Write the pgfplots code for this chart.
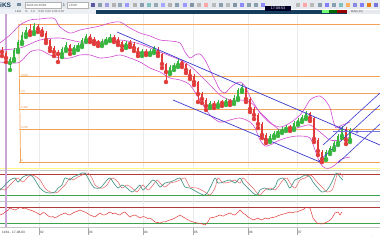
\documentclass[border=0pt]{standalone}
\usepackage{pgfplots}
\pgfplotsset{compat=1.18}
\usepackage{pgfplotstable}
\usepackage{fontspec}
\setmainfont{Liberation Sans}
\definecolor{cgreen}{HTML}{38B53F}
\definecolor{cred}{HTML}{E03A3A}
\definecolor{corange}{HTML}{F4A45A}
\definecolor{cblue}{HTML}{3A3ACC}
\definecolor{cmag}{HTML}{D24BD2}
\definecolor{cpurple}{HTML}{C9A6D6}
\definecolor{cteal}{HTML}{4E9A8C}
\definecolor{cdark}{HTML}{163E5C}
\definecolor{ctool}{HTML}{E6EAEF}
\definecolor{cgrid}{HTML}{EBEBEB}
\definecolor{clevred}{HTML}{B03A3A}
\definecolor{clevgreen}{HTML}{3FA34D}

\pgfplotstableread{
x o h l c
2 150 153 144 148
6 147 149 138 142
10 137 143 130 141
14 141 152 139 150
18 150 160 148 158
22 158 168 156 165
26 166 173 163 170
30 171 176 165 168
34 168 177 166 174
38 174 176 168 171
42 171 173 165 168
46 167 169 157 160
50 160 161 149 152
54 152 154 144 148
58 148 150 138 146
62 146 153 143 151
66 151 158 149 155
70 155 156 146 150
74 150 155 147 153
78 153 157 150 155
82 155 162 153 160
86 160 166 158 164
90 164 166 158 161
94 161 163 156 159
98 158 160 154 157
102 156 161 154 159
106 159 163 157 161
110 161 166 159 163
114 163 165 158 161
118 161 163 155 158
122 158 159 150 154
126 154 159 152 157
130 157 160 153 156
134 156 158 149 152
138 152 153 144 147
142 147 151 144 149
146 149 151 145 147
150 147 151 145 149
154 149 154 147 152
158 151 153 144 147
162 146 147 132 136
166 136 137 118 128
170 128 135 126 133
174 133 137 130 135
178 135 142 133 139
182 139 140 133 136
186 136 137 127 130
190 130 131 121 124
194 124 126 115 118
198 118 119 98 106
202 106 108 97 101
206 100 102 90 94
210 94 99 92 97
214 97 99 92 95
218 95 100 93 98
222 98 100 94 97
226 97 102 95 100
230 100 101 95 98
234 98 105 96 102
238 102 112 100 110
242 110 116 108 113
246 112 113 98 101
250 101 103 88 91
254 91 93 81 85
258 85 87 72 76
262 76 78 62 65
266 65 67 57 60
270 60 66 58 64
274 64 69 62 67
278 67 71 64 69
282 69 73 67 71
286 71 75 69 73
290 73 75 69 72
294 72 79 70 77
298 77 82 75 80
302 80 85 78 83
306 83 89 81 87
310 87 88 79 82
314 82 83 58 61
318 60 62 45 49
322 48 50 38 41
326 41 50 40 48
330 48 54 46 52
334 52 59 50 57
338 57 66 55 64
342 64 74 62 72
346 71 73 56 60
350 60 72 58 70
}\candles

\pgfplotstableread{
x k d
0 35.7 40
5 50 35.7
10 64.3 50
15 70 64.3
18 58.6 70
23 72.9 58.6
28 78.6 72.9
32 75.7 78.6
35 64.3 75.7
40 41.4 64.3
45 30 41.4
50 27.1 30
55 30 27.1
58 41.4 30
62 50 41.4
65 70 50
70 64.3 70
73 72.9 64.3
78 78.6 72.9
82 84.3 78.6
85 84.3 84.3
88 70 84.3
92 50 70
95 41.4 50
100 41.4 41.4
103 50 41.4
107 64.3 50
110 70 64.3
113 58.6 70
118 41.4 58.6
122 50 41.4
127 41.4 50
132 30 41.4
137 41.4 30
140 50 41.4
143 35.7 50
148 50 35.7
153 64.3 50
157 55.7 64.3
160 44.3 55.7
165 55.7 44.3
170 58.6 55.7
175 64.3 58.6
180 70 64.3
185 44.3 70
190 41.4 44.3
197 30 41.4
205 21.4 30
210 41.4 21.4
215 70 41.4
218 55.7 70
223 58.6 55.7
230 64.3 58.6
235 55.7 64.3
240 70 55.7
243 55.7 70
248 41.4 55.7
253 27.1 41.4
257 21.4 27.1
260 35.7 21.4
265 41.4 35.7
270 35.7 41.4
275 44.3 35.7
278 64.3 44.3
283 70 64.3
287 55.7 70
290 41.4 55.7
295 64.3 41.4
300 70 64.3
305 78.6 70
310 72.9 78.6
313 58.6 72.9
317 44.3 58.6
322 30 44.3
327 35.7 30
332 58.6 35.7
335 78.6 58.6
337 84.3 78.6
340 72.9 84.3
343 64.3 72.9
}\stoch

\pgfplotstableread{
x r
0 50
3 53
5 57.5
8 62
10 67.5
13 64
15 62.5
18 66
20 70
23 66
25 67.5
28 64
30 62.5
33 60
35 57.5
38 54
40 50
43 56
45 55
48 48
50 45
53 46
55 42.5
58 47
60 50
63 53
65 55
68 51
70 50
73 55
75 57.5
78 60
80 62.5
83 59
85 57.5
88 53
90 50
93 47
95 45
98 51
100 55
103 50
105 50
108 55
110 57.5
113 53
115 55
118 51
120 50
123 56
125 57.5
128 49
130 45
133 49
135 50
138 46
140 42.5
143 46
145 45
148 41
150 42.5
153 37
155 32.5
158 31
160 30
163 33
165 32.5
168 36
170 37.5
173 40
175 42.5
178 47
180 50
183 45
185 42.5
188 38
190 35
194 32
197 30
201 29
205 25
208 33
210 42.5
213 44
215 45
218 48
220 50
223 47
225 50
228 53
230 55
233 51
235 50
238 57
240 62.5
243 55
246 50
248 45
251 41
253 37.5
256 40
258 42.5
260 39
262 37.5
265 42.5
268 40
270 42.5
273 44
275 45
278 48
280 50
283 52
287 55
290 57.5
292 55
295 58
297 57.5
300 61
302 62.5
304 65
305 67.5
307 70
308 68
310 67.5
313 42.5
317 30
320 28
322 27.5
325 30
327 32.5
330 37
332 42.5
335 55
338 57.5
340 50
342 57.5
}\rsi

\begin{document}
\begin{tikzpicture}
% ---------- chrome ----------
\begin{scope}[x=1pt,y=-1pt,yshift=240pt]
\fill[white] (0,0) rectangle (380,240);
\fill[ctool] (0,0) rectangle (380,9.5);
\fill[ctool!70!white] (0,9.5) rectangle (96,14);
\fill[cdark] (96,9.8) rectangle (380,13.6);
\node[font=\bfseries\fontsize{6.5}{7}\selectfont, text=cdark, anchor=west, inner sep=0] at (0,5) {iKS};
\fill[cdark!60] (17,2.8) rectangle ++(3.6,3.6);
\fill[white, draw=gray!60, line width=0.2pt] (25,1.8) rectangle (61,8);
\node[font=\fontsize{3}{3}\selectfont, text=gray!60!black, anchor=west, inner sep=0] at (26.5,5) {2024-02-20/04};
\node[font=\fontsize{4}{4}\selectfont, text=cdark, inner sep=0] at (64,5) {1};
\fill[white, draw=gray!60, line width=0.2pt] (67,1.8) rectangle (88,8);
\node[font=\fontsize{3}{3}\selectfont, text=gray!60!black, anchor=west, inner sep=0] at (69,5) {10:00};
\foreach \xx/\cc in {91/gray!70!blue,98/cdark!50,105/cblue!50,112/gray!60,118/cdark!45,125/blue!40,133/gray!60,140/cdark!50,
  147/teal!50,154/cdark!45,161/blue!35,168/gray!60,175/cdark!50,183/blue!40,190/cdark!55,197/gray!55,204/red!35,212/gray!55,
  219/cdark!50,226/gray!55,233/cdark!55,240/blue!45,247/cdark!50,254/cdark!50,261/blue!45,296/gray!55,303/red!35,310/gray!55,
  318/cdark!50,325/blue!50,332/cdark!50,339/teal!50,346/orange!60,353/cblue!60,360/blue!50,367/orange!60!brown,374/cblue!70}
  {\fill[\cc] (\xx,3) rectangle ++(3.6,3.6);}
\fill[black!85!blue] (265,5.8) rectangle (291,11.2);
\node[font=\fontsize{3.6}{4}\selectfont, text=white, inner sep=0] at (278,8.6) {17:09:53};
\node[font=\fontsize{2.8}{3}\selectfont, text=gray!60!black, anchor=west, inner sep=0] at (15,11.8) {1461 \quad \% \quad 1.0 \quad 0.00\, 0.00\, 0.00\, 0.00};
\fill[green!55!white] (322,10.2) rectangle (329,13.4);
\fill[green!40!black] (329,10.2) rectangle (337,13.4);
\fill[red!60!black] (337,10.2) rectangle (347,13.4);
\fill[ctool] (347,10) rectangle (380,14);
\node[font=\fontsize{2.8}{3}\selectfont, text=gray!50!black, anchor=west, inner sep=0] at (351,12) {MA(5,10)};
% separators
\draw[gray!45, line width=0.4pt] (0,170.3) -- (380,170.3);
\draw[gray!45, line width=0.4pt] (0,201.3) -- (380,201.3);
\draw[gray!45, line width=0.4pt] (0,227.3) -- (380,227.3);
% bottom labels
\foreach \xx/\tt in {39/02,88/03,143/04,193/05,248/06,297/07}{
  \draw[gray!70, line width=0.3pt] (\xx,228) -- (\xx,235);
  \node[font=\fontsize{3.2}{3.5}\selectfont, text=gray!50!black, anchor=west, inner sep=0] at (\xx+0.8,232.5) {\tt};
}
\node[font=\fontsize{3.2}{3.5}\selectfont, text=black!80, anchor=west, inner sep=0] at (2,232.5) {1461 - 17-08-03};
\node[font=\fontsize{3}{3}\selectfont, text=gray!60, inner sep=0] at (372,237) {...};
\end{scope}

% ---------- main panel ----------
\begin{axis}[at={(0pt,70pt)}, anchor=south west, scale only axis,
  width=380pt, height=156pt, xmin=0, xmax=380, ymin=30, ymax=186,
  axis line style={draw=none}, xtick={39,88,143,193,248,297}, ytick=\empty,
  xticklabels={}, xmajorgrids, grid style={cgrid, line width=0.4pt},
  major tick length=0pt, clip=true]
% pale line at panel bottom
\addplot[yellow!45!white, line width=0.6pt] coordinates {(0,31.5) (380,31.5)};
% Fibonacci levels
\addplot[corange, line width=0.7pt] coordinates {(19,176) (380,176)};
\addplot[corange, line width=0.7pt] coordinates {(19,123.3) (380,123.3)};
\addplot[corange, line width=0.7pt] coordinates {(19,107) (380,107)};
\addplot[corange, line width=0.7pt] coordinates {(19,90.7) (380,90.7)};
\addplot[corange, line width=0.7pt] coordinates {(19,70.6) (380,70.6)};
\addplot[corange, line width=0.7pt] coordinates {(19,38) (380,38)};
\addplot[corange, line width=0.7pt] coordinates {(18.6,176) (20.6,38)};
\foreach \lv/\tx in {176/1,123.3/0.618,107/0.5,90.7/0.382,70.6/0.236,38/0}{
  \edef\tmp{\noexpand\node[font=\noexpand\fontsize{2.8}{3}\noexpand\selectfont, text=corange!90!black, anchor=south west, inner sep=0.3pt] at (axis cs:20.5,\lv) {\tx};}\tmp
}
% purple marker line
\addplot[cpurple, line width=1.1pt] coordinates {(6,30) (6,186)};
% Bollinger bands
\addplot[cmag, line width=0.6pt, smooth] coordinates {(0,157) (10,165) (20,175) (30,180) (40,181) (50,182) (55,181) (60,173) (70,167) (80,170) (90,172) (100,174) (110,177) (120,178) (130,172) (140,167) (150,164) (160,160) (170,159) (180,157) (185,148) (190,142) (195,145) (200,146) (205,140) (210,130) (215,120) (220,110) (225,107) (230,112) (235,116) (240,118) (245,114) (250,103) (255,95) (260,87) (270,77) (280,73) (290,77) (300,85) (305,92) (310,100) (315,103) (320,104) (325,100) (330,92) (333,80) (336,72) (340,74) (345,76) (350,78)};
\addplot[cmag, line width=0.6pt, smooth] coordinates {(0,150) (20,152) (40,160) (60,162) (80,158) (100,158) (120,160) (140,156) (160,148) (180,140) (190,134) (200,125) (210,115) (220,105) (230,100) (240,100) (250,98) (260,88) (270,78) (280,70) (290,70) (300,73) (310,75) (320,68) (330,60) (340,60) (350,63)};
\addplot[cmag, line width=0.6pt, smooth] coordinates {(0,138) (10,137) (20,138) (30,148) (40,150) (50,145) (60,142) (70,142) (80,145) (90,145) (100,142) (110,143) (120,145) (130,142) (140,138) (150,132) (160,128) (170,122) (180,120) (190,115) (200,100) (210,85) (220,78) (230,80) (240,82) (250,78) (255,72) (260,60) (265,54) (270,55) (280,60) (290,63) (300,64) (310,62) (315,50) (320,37) (325,32) (330,32) (335,35) (340,40) (345,42) (350,43)};
% candles: wicks
\addplot[cgreen, only marks, mark=none, restrict expr to domain={\thisrow{c}-\thisrow{o}}{0:1000},
  error bars/.cd, y dir=plus, y explicit, error mark=none, error bar style={line width=0.45pt}]
  table[x=x, y=l, y error plus expr=\thisrow{h}-\thisrow{l}] {\candles};
\addplot[cred, only marks, mark=none, restrict expr to domain={\thisrow{c}-\thisrow{o}}{-1000:-0.001},
  error bars/.cd, y dir=plus, y explicit, error mark=none, error bar style={line width=0.45pt}]
  table[x=x, y=l, y error plus expr=\thisrow{h}-\thisrow{l}] {\candles};
% candles: bodies
\addplot[cgreen, only marks, mark=none, restrict expr to domain={\thisrow{c}-\thisrow{o}}{0:1000},
  error bars/.cd, y dir=plus, y explicit, error mark=none, error bar style={line width=1.5pt}]
  table[x=x, y=o, y error plus expr=\thisrow{c}-\thisrow{o}] {\candles};
\addplot[cred, only marks, mark=none, restrict expr to domain={\thisrow{c}-\thisrow{o}}{-1000:-0.001},
  error bars/.cd, y dir=plus, y explicit, error mark=none, error bar style={line width=1.5pt}]
  table[x=x, y=c, y error plus expr=\thisrow{o}-\thisrow{c}] {\candles};
% descending channel
\addplot[cblue, line width=0.7pt] coordinates {(117,168) (380,55)};
\addplot[cblue, line width=0.7pt] coordinates {(173,100) (320,38)};
% ascending lines
\addplot[cblue, line width=0.6pt] coordinates {(323,55) (380,107)};
\addplot[cblue, line width=0.6pt] coordinates {(318,38) (380,95)};
\addplot[cblue, line width=0.6pt] coordinates {(338,37) (380,76)};
\addplot[cblue!70, line width=0.6pt] coordinates {(333,69) (380,69)};
\addplot[cblue, only marks, mark=o, mark size=1.3pt, line width=0.4pt] coordinates {(340,72) (357,68)};
\end{axis}

% ---------- oscillator 1 ----------
\begin{axis}[at={(0pt,39pt)}, anchor=south west, scale only axis,
  width=380pt, height=31pt, xmin=0, xmax=380, ymin=4.3, ymax=92.9,
  axis line style={draw=none}, xtick={39,88,143,193,248,297}, ytick=\empty,
  xticklabels={}, xmajorgrids, grid style={cgrid, line width=0.4pt},
  major tick length=0pt, clip=true]
\addplot[clevred, line width=0.6pt] coordinates {(0,80) (380,80)};
\addplot[clevgreen, line width=0.6pt] coordinates {(0,20) (380,20)};
\addplot[cpurple, line width=1.1pt] coordinates {(6,4.3) (6,92.9)};
\addplot[cred!80, line width=0.5pt, smooth] table[x=x, y=d] {\stoch};
\addplot[cteal, line width=0.7pt, smooth] table[x=x, y=k] {\stoch};
\end{axis}

% ---------- oscillator 2 ----------
\begin{axis}[at={(0pt,13pt)}, anchor=south west, scale only axis,
  width=380pt, height=26pt, xmin=0, xmax=380, ymin=20, ymax=85,
  axis line style={draw=none}, xtick={39,88,143,193,248,297}, ytick=\empty,
  xticklabels={}, xmajorgrids, grid style={cgrid, line width=0.4pt},
  major tick length=0pt, clip=true]
\addplot[clevred, line width=0.6pt] coordinates {(0,70) (380,70)};
\addplot[clevgreen, line width=0.6pt] coordinates {(0,30) (380,30)};
\addplot[cpurple, line width=1.1pt] coordinates {(6,20) (6,85)};
\addplot[cred, line width=0.5pt] table[x=x, y=r] {\rsi};
\end{axis}

\pgfresetboundingbox
\path[use as bounding box] (0,0) rectangle (380pt,240pt);
\end{tikzpicture}
\end{document}
